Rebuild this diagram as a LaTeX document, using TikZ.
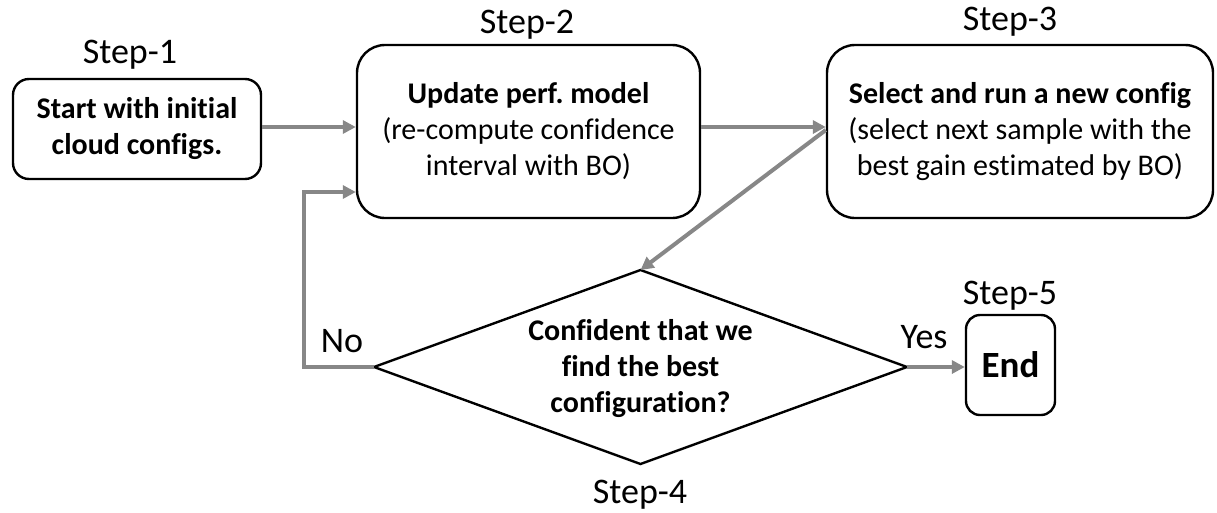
\documentclass[tikz,border=0pt]{standalone}
\usepackage{fontspec}
\setmainfont{Carlito}[Ligatures={NoCommon}]
\usetikzlibrary{arrows.meta,positioning}
\frenchspacing
\begin{document}
\begin{tikzpicture}[x=1pt,y=-1pt,
  box/.style={draw=black,line width=2.4pt,align=center,inner sep=0pt,
    font=\fontsize{30}{36}\selectfont},
  steplabel/.style={anchor=base,inner sep=0pt,font=\fontsize{36}{40}\selectfont},
  flow/.style={draw=black!47,line width=4pt,-{Triangle[length=13pt,width=13pt]}},
  txt/.style={align=center,inner sep=0pt,font=\fontsize{30}{36}\selectfont}]
\useasboundingbox (0,0) rectangle (1217,512);
% boxes
\node[box,rounded corners=16pt,minimum width=248pt,minimum height=100pt] (s1) at (137,129)
  {\textbf{Start with initial}\\\textbf{cloud configs.}};
\node[box,rounded corners=28pt,minimum width=343pt,minimum height=173pt] (s2) at (528.5,131.5)
  {\textbf{Update perf. model}\\(re-compute confidence\\interval with BO)};
\node[box,rounded corners=28pt,minimum width=386pt,minimum height=173pt] (s3) at (1020,131.5)
  {\textbf{Select and run a new config}\\(select next sample with the\\best gain estimated by BO)};
\node[box,rounded corners=14pt,minimum width=89pt,minimum height=100pt,
  font=\fontsize{37}{40}\selectfont] (s5) at (1010.5,365) {\textbf{End}};
% diamond
\coordinate (dn) at (640.5,270);
\coordinate (de) at (907,367);
\coordinate (ds) at (640.5,464);
\coordinate (dw) at (374,367);
\draw[black,line width=2.4pt,line join=miter] (dn) -- (de) -- (ds) -- (dw) -- cycle;
\node[txt] (s4) at (640.5,369)
  {\textbf{Confident that we}\\\textbf{find the best}\\\textbf{configuration?}};
% step labels
\node[steplabel] (l1) at (130,63) {Step-1};
\node[steplabel] (l2) at (527,33) {Step-2};
\node[steplabel] (l3) at (1010,30) {Step-3};
\node[steplabel] (l4) at (640,503) {Step-4};
\node[steplabel] (l5) at (1010,304) {Step-5};
\node[steplabel] (lno) at (342,352) {No};
\node[steplabel] (lyes) at (924,348) {Yes};
% connectors
\draw[flow] (s1.east |- 0,127) -- (s2.west |- 0,127);
\draw[flow] (s2.east |- 0,127) -- (s3.west |- 0,127);
\draw[flow] (s3.west |- 0,130) -- (dn);
\coordinate (nocorner1) at (304,367);
\coordinate (nocorner2) at (304,192);
\draw[flow] (dw) -- (nocorner1) -- (nocorner2) -- (s2.west |- 0,192);
\draw[flow] (de) -- (s5.west |- 0,367);
\end{tikzpicture}
\end{document}
